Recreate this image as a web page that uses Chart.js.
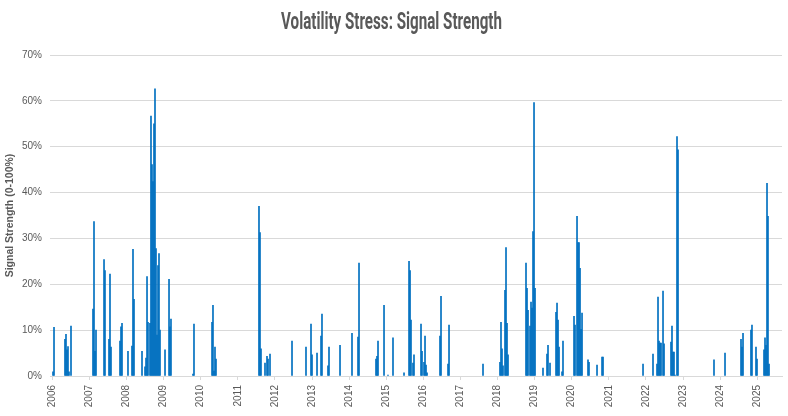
<!DOCTYPE html>
<html>
<head>
<meta charset="utf-8">
<script src="https://cdn.jsdelivr.net/npm/chart.js@4.4.1/dist/chart.umd.min.js"></script>
<style>
  html, body { margin: 0; padding: 0; background: #fff; }
  #wrap { width: 788px; height: 416px; }
</style>
</head>
<body>
<div id="wrap"><canvas id="myChart"></canvas></div>
<script>
// signal dates as decimal years, strength in %
const signalDates = [
  2006.019, 2006.046, 2006.342, 2006.369, 2006.396, 2006.423, 2006.450, 2006.504,
  2007.097, 2007.124, 2007.151, 2007.178, 2007.394, 2007.420, 2007.528, 2007.555, 2007.582,
  2007.825, 2007.852, 2007.879,
  2008.040, 2008.148, 2008.175, 2008.202, 2008.418, 2008.499, 2008.526, 2008.553, 2008.579,
  2008.633, 2008.660, 2008.687, 2008.714, 2008.741, 2008.768, 2008.795, 2008.822, 2008.849,
  2008.876, 2008.903,
  2009.038, 2009.146, 2009.172, 2009.199, 2009.792, 2009.819,
  2010.305, 2010.331, 2010.358, 2010.385, 2010.412,
  2011.571, 2011.598, 2011.625, 2011.733, 2011.787, 2011.814, 2011.868,
  2012.461, 2012.838, 2012.973,
  2013.000, 2013.135, 2013.243, 2013.269, 2013.431, 2013.458, 2013.755,
  2014.078, 2014.240, 2014.267, 2014.725, 2014.752, 2014.779, 2014.941,
  2015.048, 2015.183, 2015.480, 2015.615, 2015.642, 2015.668, 2015.722, 2015.749, 2015.938, 2015.965,
  2016.019, 2016.046, 2016.073, 2016.100, 2016.450, 2016.477, 2016.666, 2016.693,
  2017.609,
  2018.067, 2018.094, 2018.121, 2018.148, 2018.202, 2018.229, 2018.256, 2018.283,
  2018.768, 2018.795, 2018.822, 2018.876, 2018.903, 2018.930, 2018.957, 2018.984,
  2019.011, 2019.226, 2019.334, 2019.361, 2019.415, 2019.577, 2019.604, 2019.631, 2019.658,
  2019.739, 2019.765,
  2020.062, 2020.089, 2020.143, 2020.170, 2020.197, 2020.224, 2020.251, 2020.278,
  2020.439, 2020.466, 2020.682, 2020.817, 2020.844,
  2021.922,
  2022.191, 2022.299, 2022.326, 2022.353, 2022.380, 2022.407, 2022.461, 2022.488,
  2022.676, 2022.703, 2022.730, 2022.757, 2022.784, 2022.838, 2022.865,
  2023.835,
  2024.132, 2024.563, 2024.590, 2024.617, 2024.832, 2024.859, 2024.967, 2024.994,
  2025.183, 2025.210, 2025.237, 2025.264, 2025.290, 2025.318
];
const signalStrength = [
  0.9, 10.6, 8.0, 9.1, 5.7, 6.4, 0.9, 10.9,
  14.6, 33.7, 5.4, 10.0, 25.4, 23.0, 8.0, 22.2, 6.3,
  7.6, 10.7, 11.5,
  5.4, 6.5, 27.6, 16.7, 5.4, 2.0, 3.9, 21.7, 11.7,
  11.5, 56.7, 46.1, 42.4, 55.0, 62.6, 27.8, 8.9, 24.1,
  26.7, 10.0,
  5.7, 21.1, 10.7, 12.4, 0.4, 11.3,
  11.7, 15.4, 1.1, 6.3, 3.7,
  37.0, 31.3, 5.9, 2.8, 4.3, 3.7, 4.8,
  7.6, 6.3, 11.3,
  4.6, 5.0, 8.7, 13.5, 2.2, 6.3, 6.7,
  9.3, 8.5, 24.6, 3.7, 4.3, 7.6, 15.4,
  0.2, 8.3, 0.7, 25.0, 23.0, 12.2, 2.8, 4.6, 11.3, 5.4,
  3.0, 8.7, 2.4, 0.7, 8.7, 17.4, 2.6, 11.1,
  2.6,
  3.0, 11.7, 5.9, 2.2, 18.7, 28.0, 11.5, 4.6,
  24.6, 19.1, 14.3, 10.9, 16.1, 14.8, 31.5, 59.6,
  19.1, 1.7, 4.8, 6.7, 2.8, 13.9, 15.9, 12.2, 6.3,
  0.9, 7.6,
  13.0, 11.1, 34.8, 29.1, 29.1, 23.5, 10.2, 13.7,
  3.5, 3.0, 2.4, 4.1, 4.1,
  2.6,
  4.8, 2.6, 17.2, 7.6, 7.2, 7.2, 18.5, 7.0,
  7.4, 10.9, 5.2, 5.2, 0.2, 52.2, 49.3,
  3.5,
  5.0, 8.0, 6.3, 9.3, 10.0, 11.1, 6.3, 3.7,
  5.7, 8.3, 6.7, 42.0, 34.8, 2.6
];
const yearTicks = [2006, 2007, 2008, 2009, 2010, 2011, 2012, 2013, 2014, 2015,
  2016, 2017, 2018, 2019, 2020, 2021, 2022, 2023, 2024, 2025];

const chartTitle = 'Volatility Stress: Signal Strength';
const points = signalDates.map((d, i) => ({ x: d, y: signalStrength[i] }));
const grey = '#595959';
const lineGrey = '#d9d9d9';

// condensed title: squeeze a normal font horizontally
const condensedTitle = {
  id: 'condensedTitle',
  afterDraw(chart) {
    const ctx = chart.ctx;
    ctx.save();
    ctx.font = "bold 23px Roboto, 'Liberation Sans', sans-serif";
    ctx.fillStyle = grey;
    ctx.textAlign = 'center';
    ctx.textBaseline = 'alphabetic';
    const w = ctx.measureText(chartTitle).width;
    ctx.translate(391.5, 29);
    ctx.scale(221 / w, 1);
    ctx.fillText(chartTitle, 0, 0);
    ctx.restore();
  }
};

const config = {
  type: 'bar',
  data: {
    datasets: [{
      label: 'Signal Strength',
      data: points,
      backgroundColor: '#0070c0',
      borderWidth: 0,
      barThickness: 1
    }]
  },
  options: {
    responsive: true,
    maintainAspectRatio: false,
    animation: false,
    layout: { padding: { left: 0, right: 6, top: 55, bottom: 0 } },
    plugins: {
      legend: { display: false },
      tooltip: { enabled: false },
      title: { display: false }
    },
    scales: {
      x: {
        type: 'linear',
        offset: false,
        min: 2005.938,
        max: 2025.668,
        afterBuildTicks: (scale) => { scale.ticks = yearTicks.map(v => ({ value: v })); },
        afterFit: (scale) => { scale.height = 40; },
        grid: { drawOnChartArea: false, drawTicks: true, tickLength: 4, color: lineGrey, offset: false },
        border: { color: lineGrey },
        ticks: {
          color: grey,
          font: { family: "'Liberation Sans', Arial, sans-serif", size: 10 },
          maxRotation: 90,
          minRotation: 90,
          padding: 5,
          autoSkip: false,
          callback: (v) => String(v)
        }
      },
      y: {
        min: 0,
        max: 70,
        afterFit: (scale) => { scale.width = 50; },
        grid: { color: lineGrey, drawTicks: false },
        border: { display: false },
        ticks: {
          stepSize: 10,
          color: grey,
          padding: 8,
          font: { family: "'Liberation Sans', Arial, sans-serif", size: 10 },
          callback: (v) => v + '%'
        },
        title: {
          display: true,
          text: 'Signal Strength (0-100%)',
          color: grey,
          font: { family: "'Liberation Sans', Arial, sans-serif", size: 10.5, weight: 'bold' },
          padding: { top: 4, bottom: 0 }
        }
      }
    }
  },
  plugins: [condensedTitle]
};

const myChart = new Chart(document.getElementById('myChart'), config);
</script>
</body>
</html>
